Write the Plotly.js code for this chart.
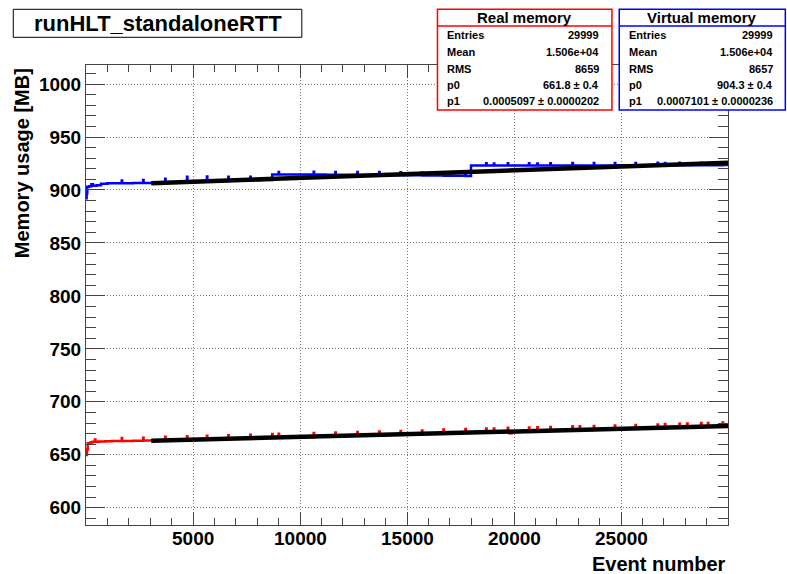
<!DOCTYPE html>
<html><head><meta charset="utf-8">
<script src="https://cdn.plot.ly/plotly-3.0.1.min.js"></script>
<style>html,body{margin:0;padding:0;background:#fff}#chart{width:787px;height:574px}</style>
</head><body><div id="chart"></div>
<script>
// ---------------- data ----------------
const chartTitle = 'runHLT_standaloneRTT';
const xTitle = 'Event number';
const yTitle = 'Memory usage [MB]';
const xTicks = [5000, 10000, 15000, 20000, 25000];
const yTicks = [600, 650, 700, 750, 800, 850, 900, 950, 1000];

const realX = [0, 40, 80, 200, 300, 420, 440, 600, 900, 1200,
  1670, 1690, 2200, 2670, 2690, 3100, 3700, 3720, 4200, 4720, 4740, 5200,
  5650, 5670, 6200, 6650, 6670, 7200, 7680, 7700, 8200, 8700, 8720,
  9000, 9020, 9600, 10640, 10660, 11200, 11650, 11670, 12200, 12680, 12700, 13200,
  13700, 13720, 14200, 14700, 14720, 15200, 15700, 15720, 16200, 16700, 16720, 17200,
  17730, 17750, 18200, 18700, 18720, 19060, 19080, 19710, 19730, 19780, 19900,
  20700, 20720, 21090, 21110, 21700, 21720, 22200, 22730, 22750, 23070, 23090,
  23730, 23750, 24200, 24710, 24730, 25200, 25680, 25700, 26200, 26710, 26730,
  27050, 27070, 27730, 27750, 28090, 28110, 28740, 28760, 29060, 29080, 29750, 29770, 30000];
const realY = [649.7, 655.0, 660.8, 661.5, 662.3, 664.5, 662.4, 662.5, 662.8, 663.0,
  665.8, 663.1, 663.2, 666.0, 663.4, 663.5, 667.0, 663.8, 664.0, 667.5, 664.2, 664.5,
  668.0, 664.8, 665.0, 668.5, 665.3, 665.5, 669.0, 665.6, 666.0, 669.5, 666.2,
  669.8, 666.4, 666.6, 670.5, 667.0, 667.3, 671.0, 667.6, 667.9, 671.5, 668.2, 668.4,
  672.0, 668.7, 668.9, 672.5, 669.2, 669.4, 673.0, 669.7, 670.0, 673.9, 670.3, 670.5,
  674.3, 670.8, 671.0, 674.8, 671.3, 674.9, 671.5, 675.5, 671.7, 670.3, 671.9,
  675.8, 672.2, 676.0, 672.4, 676.3, 672.7, 673.0, 676.9, 673.2, 676.9, 673.4,
  677.2, 673.8, 674.0, 677.7, 674.3, 674.5, 678.2, 674.8, 675.1, 678.6, 675.3,
  679.0, 675.5, 679.3, 675.9, 679.5, 676.0, 679.9, 676.4, 680.1, 676.6, 680.5, 676.9, 678.4];

const virtX = [0, 30, 60, 150, 250, 330, 500, 700, 1000,
  1670, 1690, 2200, 2670, 2690, 3100, 3700, 3720, 4200, 4720, 4740, 5200,
  5650, 5670, 6200, 6650, 6670, 7200, 7680, 7700, 8200, 8700,
  9000, 9020, 9600, 10640, 10660, 11200, 11650, 11670, 12200, 12680, 12700, 13200,
  13700, 13720, 14200, 14700, 14720, 15200, 15700, 15720, 16200, 16700, 16720, 17200,
  17730, 17750, 17990, 18700, 18720, 19060, 19080, 19710, 19730, 20200,
  20700, 20720, 21090, 21110, 21700, 21720, 22200, 22730, 22750,
  23730, 23750, 24200, 24710, 24730, 25200, 25680, 25700, 26200, 26710, 26730,
  27050, 27070, 27730, 27750, 28740, 28760, 29750, 29770, 30000];
const virtY = [892.1, 897.0, 903.0, 903.5, 905.5, 904.0, 904.5, 906.0, 906.3,
  909.0, 906.4, 906.5, 909.5, 906.6, 906.8, 910.5, 907.2, 907.5, 912.5, 907.8, 908.0,
  912.8, 908.3, 908.5, 912.5, 908.8, 909.0, 912.5, 909.3, 909.5, 914.5,
  917.0, 914.6, 914.5, 917.2, 914.5, 914.4, 917.0, 914.3, 914.3, 917.0, 914.2, 914.2,
  917.0, 914.1, 914.0, 916.8, 913.9, 913.8, 916.6, 913.7, 913.6, 916.0, 913.5, 913.4,
  915.5, 913.3, 923.0, 925.3, 923.0, 925.0, 923.0, 925.3, 923.1, 923.1,
  925.3, 923.1, 925.0, 923.1, 925.3, 923.2, 923.2, 925.4, 923.2,
  925.4, 923.2, 923.2, 925.5, 923.3, 923.3, 925.5, 923.3, 923.3, 925.6, 923.3,
  925.5, 923.4, 925.6, 923.4, 925.8, 923.4, 925.9, 923.5, 923.5];

const statLabels = ['Entries', 'Mean', 'RMS', 'p0', 'p1'];
const realStats = ['29999', '1.506e+04', '8659', '661.8 \u00b1 0.4', '0.0005097 \u00b1 0.0000202'];
const virtStats = ['29999', '1.506e+04', '8657', '904.3 \u00b1 0.4', '0.0007101 \u00b1 0.0000236'];
const realFit = {p0: 661.8, p1: 0.0005097};
const virtFit = {p0: 904.3, p1: 0.0007101};
const fitRange = [3050, 30000];

// ---------------- layout helpers (pixel -> paper) ----------------
const L = 86, R = 727.7, T = 65, B = 525;
const px = x => (x - L) / (R - L);
const py = y => (B - y) / (B - T);
const FONT = 'Liberation Sans, Arial, Helvetica, sans-serif';

const traces = [
  {x: realX, y: realY, mode: 'lines', line: {color: '#ff0000', width: 2.5, shape: 'hv'}, hoverinfo: 'skip'},
  {x: virtX, y: virtY, mode: 'lines', line: {color: '#0000ff', width: 2.5, shape: 'hv'}, hoverinfo: 'skip'},
  {x: fitRange, y: fitRange.map(v => realFit.p0 + realFit.p1 * v), mode: 'lines', line: {color: '#000', width: 4.5}},
  {x: fitRange, y: fitRange.map(v => virtFit.p0 + virtFit.p1 * v), mode: 'lines', line: {color: '#000', width: 4.5}}
];

const tickFont = {family: FONT, size: 19, weight: 'bold', color: '#000'};
const axisCommon = {
  showline: true, linecolor: '#444', linewidth: 1, mirror: 'ticks',
  ticks: 'inside', tickcolor: '#444', tickwidth: 1,
  showgrid: true, gridcolor: '#7a7a7a', gridwidth: 1, griddash: '1px,2px',
  zeroline: false, tickfont: tickFont, tickmode: 'array'
};

const layout = {
  width: 787, height: 574,
  margin: {l: L, r: 787 - R, t: T, b: 574 - B, pad: 0},
  paper_bgcolor: '#fff', plot_bgcolor: '#fff',
  showlegend: false,
  xaxis: Object.assign({}, axisCommon, {
    range: [0, 30000], tickvals: xTicks, ticktext: xTicks.map(String), ticklen: 13,
    showticklabels: false,
    minor: {dtick: 1000, tick0: 0, ticks: 'inside', ticklen: 7, tickcolor: '#444', showgrid: false}
  }),
  yaxis: Object.assign({}, axisCommon, {
    range: [583.7, 1018], tickvals: yTicks, ticktext: yTicks.map(String), ticklen: 19,
    minor: {dtick: 10, tick0: 0, ticks: 'inside', ticklen: 10, tickcolor: '#444', showgrid: false}
  }),
  shapes: [],
  annotations: []
};

function rect(x0, y0, x1, y1, color, w) {
  layout.shapes.push({type: 'rect', xref: 'paper', yref: 'paper',
    x0: px(x0), x1: px(x1), y0: py(y1), y1: py(y0),
    line: {color: color, width: w}, fillcolor: '#fff', layer: 'above'});
}
function hline(x0, x1, y, color, w) {
  layout.shapes.push({type: 'line', xref: 'paper', yref: 'paper',
    x0: px(x0), x1: px(x1), y0: py(y), y1: py(y), line: {color: color, width: w}, layer: 'above'});
}
function text(t, x, y, anchor, size, extra) {
  layout.annotations.push(Object.assign({text: t, xref: 'paper', yref: 'paper', x: px(x), y: py(y),
    xanchor: anchor, yanchor: 'middle', showarrow: false,
    font: {family: FONT, size: size, weight: 'bold', color: '#000'}}, extra || {}));
}

// x tick labels placed on the x data scale
xTicks.forEach(v => {
  layout.annotations.push({text: String(v), xref: 'x', yref: 'paper', x: v, y: py(538.5),
    xanchor: 'center', yanchor: 'middle', showarrow: false, font: tickFont});
});

// title box
rect(13.3, 9.3, 301.7, 37.3, '#000', 1);
text(chartTitle, 157.5, 23.5, 'center', 22);

// stat boxes
const rowY = [34.5, 51.6, 68.8, 85, 101];
function statBox(x0, x1, color, title, vals) {
  rect(x0, 9.3, x1, 110, color, 1.5);
  hline(x0, x1, 26, color, 1.5);
  text(title, (x0 + x1) / 2, 17.8, 'center', 15);
  statLabels.forEach((lab, i) => {
    text(lab, x0 + 7.7, rowY[i], 'left', 11);
    text(vals[i], x1 - 10.5, rowY[i], 'right', 11);
  });
}
statBox(437.3, 611.7, '#ff0000', 'Real memory', realStats);
statBox(619, 785, '#0000ff', 'Virtual memory', virtStats);

// axis titles
text(xTitle, R, 563.5, 'right', 20);
text(yTitle, 21.7, 163.5, 'center', 20, {textangle: -90});

Plotly.newPlot('chart', traces, layout, {staticPlot: true, displayModeBar: false});
</script>
</body></html>
